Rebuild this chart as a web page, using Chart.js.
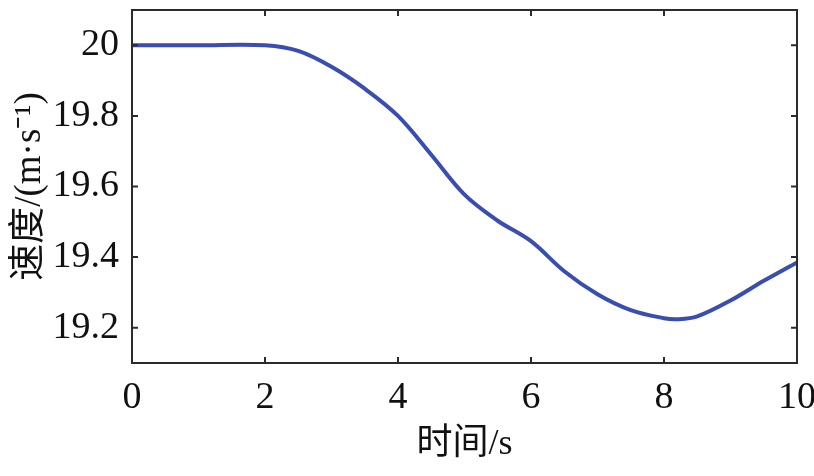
<!DOCTYPE html>
<html>
<head>
<meta charset="utf-8">
<script src="https://cdn.jsdelivr.net/npm/chart.js@4"></script>
<style>
  html, body { margin: 0; padding: 0; background: #fff; }
  #wrap { width: 814px; height: 476px; }
</style>
</head>
<body>
<div id="wrap"><canvas id="speedChart"></canvas></div>
<script>
// data
const times = [0, 1, 2, 2.5, 3, 3.5, 4, 4.5, 5, 5.5, 6, 6.5, 7, 7.5, 8, 8.2, 8.5, 9, 9.5, 10];
const speeds = [20, 20, 20, 19.984, 19.939, 19.877, 19.8, 19.69, 19.577, 19.503, 19.445, 19.36, 19.295, 19.25, 19.227, 19.224, 19.232, 19.277, 19.333, 19.385];
const xTicks = [0, 2, 4, 6, 8, 10];
const yTicks = [19.2, 19.4, 19.6, 19.8, 20];

const serif = "'Liberation Serif', 'Times New Roman', serif";
const cjk = "'Liberation Serif', 'Noto Sans CJK SC', serif";

// box round the plot + inward ticks on all four sides
const frame = {
  id: "frame",
  afterDraw(chart) {
    const ctx = chart.ctx;
    const a = chart.chartArea;
    const xs = chart.scales.x;
    const ys = chart.scales.y;
    const len = 6;
    ctx.save();
    ctx.strokeStyle = "#2b2b2b";
    ctx.lineWidth = 2;
    ctx.strokeRect(a.left, a.top, a.right - a.left, a.bottom - a.top);
    ctx.beginPath();
    xTicks.forEach(function (v) {
      const px = xs.getPixelForValue(v);
      ctx.moveTo(px, a.bottom); ctx.lineTo(px, a.bottom - len);
      ctx.moveTo(px, a.top); ctx.lineTo(px, a.top + len);
    });
    yTicks.forEach(function (v) {
      const py = ys.getPixelForValue(v);
      ctx.moveTo(a.left, py); ctx.lineTo(a.left + len, py);
      ctx.moveTo(a.right, py); ctx.lineTo(a.right - len, py);
    });
    ctx.stroke();
    ctx.restore();
  }
};

let ctx = document.getElementById("speedChart").getContext("2d");
let chart = new Chart(ctx, {
  type: "line",
  data: {
    datasets: [
      {
        data: times.map((t, i) => ({ x: t, y: speeds[i] })),
        borderColor: "#3a4db0",
        borderWidth: 4,
        pointRadius: 0,
        fill: false,
        tension: 0.35,
      },
    ],
  },
  options: {
    responsive: true,
    maintainAspectRatio: false,
    animation: false,
    events: [],
    layout: { padding: { left: 8, right: 17, top: 10, bottom: 6 } },
    plugins: {
      legend: { display: false },
      tooltip: { enabled: false },
    },
    scales: {
      x: {
        type: "linear",
        min: 0,
        max: 10,
        afterBuildTicks: (s) => { s.ticks = xTicks.map((v) => ({ value: v })); },
        afterFit: (s) => { s.height = 107; s.paddingLeft = 0; s.paddingRight = 0; },
        grid: { display: false, drawTicks: false },
        border: { display: false },
        ticks: { color: "#111", font: { family: serif, size: 38 }, padding: 12, maxRotation: 0 },
        title: {
          display: true,
          text: "时间/s",
          color: "#111",
          font: { family: cjk, size: 36 },
          padding: { top: 4 },
        },
      },
      y: {
        min: 19.1,
        max: 20.1,
        afterBuildTicks: (s) => { s.ticks = yTicks.map((v) => ({ value: v })); },
        afterFit: (s) => { s.width = 124; s.paddingTop = 0; s.paddingBottom = 0; },
        grid: { display: false, drawTicks: false },
        border: { display: false },
        ticks: {
          color: "#111",
          font: { family: serif, size: 38 },
          padding: 13,
          callback: (v) => String(+Number(v).toFixed(1)),
        },
        title: {
          display: true,
          text: "速度/(m·s⁻¹)",
          color: "#111",
          font: { family: cjk, size: 37 },
          padding: 0,
        },
      },
    },
  },
  plugins: [frame],
});
</script>
</body>
</html>
